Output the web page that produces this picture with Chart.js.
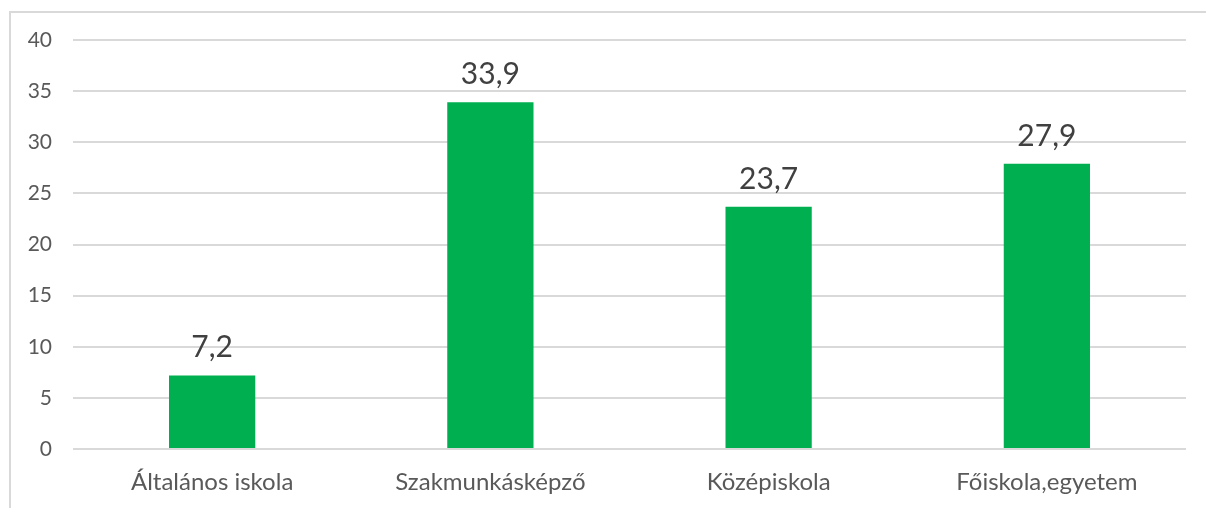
<!DOCTYPE html>
<html>
<head>
<meta charset="utf-8">
<script src="https://cdn.jsdelivr.net/npm/chart.js@4/dist/chart.umd.min.js"></script>
<style>
html,body{margin:0;padding:0;background:#fff;}
#wrap{position:relative;width:1206px;height:508px;}
#frame{position:absolute;left:9px;top:11px;width:1197px;height:497px;border-left:2px solid #d9d9d9;border-top:2px solid #d9d9d9;box-sizing:border-box;}
canvas{position:absolute;left:0;top:0;}
</style>
</head>
<body>
<div id="wrap"><div id="frame"></div><canvas id="c" width="1206" height="508"></canvas></div>
<script>
const categories = ["Általános iskola", "Szakmunkásképző", "Középiskola", "Főiskola,egyetem"];
const values = [7.2, 33.9, 23.7, 27.9];
const valueLabels = ["7,2", "33,9", "23,7", "27,9"];
const yMin = 0, yMax = 40, yStep = 5;

const FONT = "Lato, 'Open Sans', sans-serif";

const dataLabelPlugin = {
  id: 'dataLabels',
  afterDatasetsDraw(chart) {
    const ctx = chart.ctx;
    const meta = chart.getDatasetMeta(0);
    ctx.save();
    ctx.font = "30px " + FONT;
    ctx.fillStyle = "#404040";
    ctx.textAlign = "center";
    ctx.textBaseline = "alphabetic";
    meta.data.forEach((bar, i) => {
      ctx.fillText(valueLabels[i], bar.x, bar.y - 18);
    });
    ctx.restore();
  }
};

new Chart(document.getElementById('c'), {
  type: 'bar',
  data: {
    labels: categories,
    datasets: [{
      data: values,
      backgroundColor: '#00B050',
      borderWidth: 0,
      categoryPercentage: 1,
      barPercentage: 0.31
    }]
  },
  options: {
    responsive: false,
    animation: false,
    devicePixelRatio: 1,
    layout: { padding: { left: 0, right: 20, top: 40, bottom: 0 } },
    plugins: { legend: { display: false }, tooltip: { enabled: false } },
    scales: {
      x: {
        grid: { display: false, drawTicks: false },
        border: { display: false },
        ticks: { color: '#595959', font: { family: FONT, size: 24 }, padding: 19, maxRotation: 0 },
        afterFit(s) { s.height = 59; }
      },
      y: {
        min: yMin, max: yMax,
        grid: { color: '#d9d9d9', lineWidth: 2, drawTicks: false },
        border: { display: false },
        ticks: { stepSize: yStep, color: '#595959', font: { family: FONT, size: 21 }, padding: 21 },
        afterFit(s) { s.width = 73; }
      }
    }
  },
  plugins: [dataLabelPlugin]
});
</script>
</body>
</html>
